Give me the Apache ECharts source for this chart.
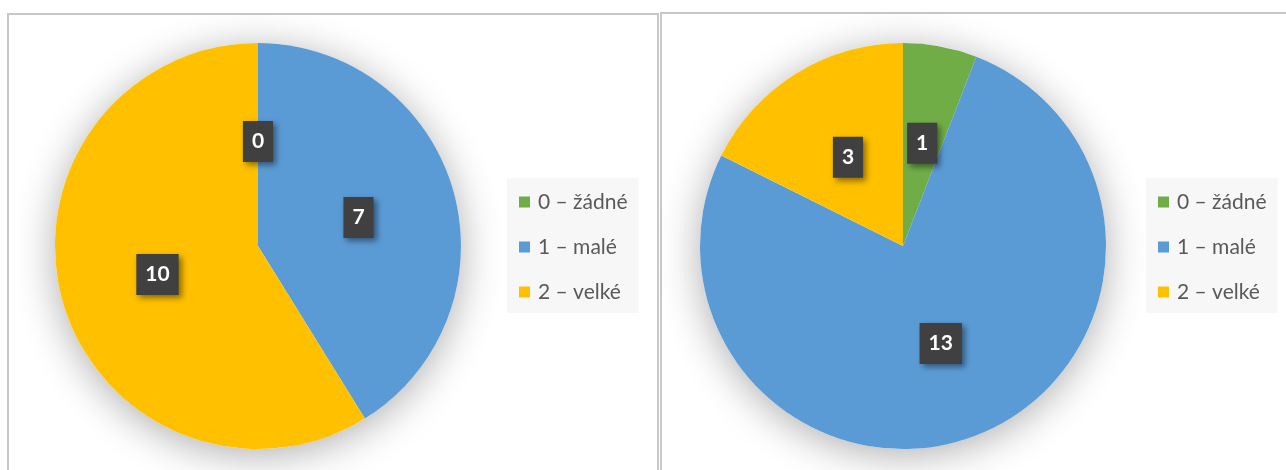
<!DOCTYPE html>
<html>
<head>
<meta charset="utf-8">
<script src="https://cdn.jsdelivr.net/npm/echarts@6/dist/echarts.min.js"></script>
<style>
  html, body { margin: 0; padding: 0; background: #ffffff; }
  #chart { width: 1286px; height: 470px; }
</style>
</head>
<body>
<div id="chart"></div>
<script>
// categories and values of the two pies
const categories = ['0 – žádné', '1 – malé', '2 – velké'];
const leftValues = [0, 7, 10];
const rightValues = [1, 13, 3];
const colors = ['#70AD47', '#5B9BD5', '#FFC000'];

const chart = echarts.init(document.getElementById('chart'));

const toData = (vals) => vals.map((v, i) => ({ name: categories[i], value: v }));
const sum = (vals) => vals.reduce((a, b) => a + b, 0);

const labelStyle = {
  show: true,
  position: 'inside',
  formatter: '{c}',
  color: '#ffffff',
  fontFamily: 'Lato',
  fontWeight: 'bold',
  fontSize: 21,
  lineHeight: 19,
  backgroundColor: '#404040',
  padding: [11, 9, 11, 9],
  shadowColor: 'rgba(0,0,0,0.45)',
  shadowBlur: 6,
  shadowOffsetX: 3,
  shadowOffsetY: 3
};

function shadowPie(center, vals) {
  return {
    type: 'pie',
    silent: true,
    center: center,
    radius: 203,
    z: 1,
    label: { show: false },
    labelLine: { show: false },
    itemStyle: {
      color: '#ffffff',
      shadowColor: 'rgba(0,0,0,0.32)',
      shadowBlur: 40,
      shadowOffsetY: 6
    },
    data: [{ name: 'shadow', value: sum(vals) }],
    tooltip: { show: false }
  };
}

function mainPie(center, vals) {
  return {
    type: 'pie',
    center: center,
    radius: 203,
    startAngle: 90,
    clockwise: true,
    z: 2,
    avoidLabelOverlap: false,
    label: labelStyle,
    labelLine: { show: false },
    itemStyle: { borderWidth: 0 },
    emphasis: { disabled: true },
    data: toData(vals)
  };
}

const legendBase = {
  orient: 'vertical',
  top: 178,
  itemWidth: 11,
  itemHeight: 11,
  itemGap: 23,
  icon: 'rect',
  backgroundColor: '#f7f7f7',
  padding: [13, 11, 10, 12],
  textStyle: { fontFamily: 'Lato', fontSize: 21, lineHeight: 22, color: '#595959', padding: [0, 0, 0, 3] },
  data: categories
};

const option = {
  animation: false,
  color: colors,
  legend: [
    Object.assign({}, legendBase, { left: 507 }),
    Object.assign({}, legendBase, { left: 1146 })
  ],
  graphic: [
    {
      type: 'rect', z: -10,
      shape: { x: 8, y: 14, width: 650, height: 480 },
      style: { fill: 'none', stroke: '#c8c8c8', lineWidth: 2 }
    },
    {
      type: 'rect', z: -10,
      shape: { x: 661, y: 13, width: 650, height: 480 },
      style: { fill: 'none', stroke: '#c8c8c8', lineWidth: 2 }
    }
  ],
  series: [
    shadowPie([258, 246], leftValues),
    mainPie([258, 246], leftValues),
    shadowPie([903, 246], rightValues),
    mainPie([903, 246], rightValues)
  ]
};

chart.setOption(option);
</script>
</body>
</html>
